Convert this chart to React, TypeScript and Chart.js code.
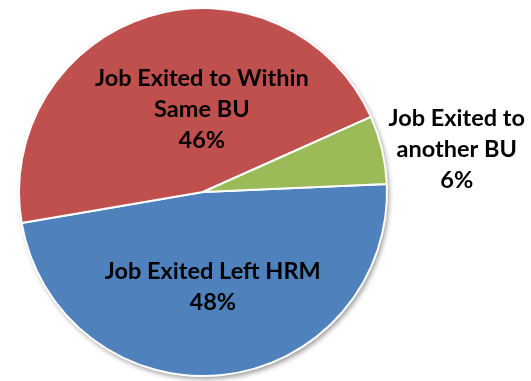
import React, { useEffect, useRef } from 'react';
import { Chart, registerables } from 'chart.js';

Chart.register(...registerables);

const categories = ['Job Exited Left HRM', 'Job Exited to Within Same BU', 'Job Exited to another BU'];
const shares = [48, 46, 6];
const labelLines = [['Job Exited Left HRM'], ['Job Exited to Within', 'Same BU'], ['Job Exited to', 'another BU']];
const sliceColors = ['#4F81BD', '#C0504D', '#9BBB59'];

// label placement: radial fraction of radius + pixel nudge
const labelPlacement = [
  { frac: 0.5, dx: 0, dy: 3 },
  { frac: 0.47, dx: 24, dy: 0 },
  { frac: 1.4, dx: 3, dy: 17 },
];

const FONT = 'bold 23.5px Lato';
const LINE_H = 31;

const shadowPlugin = {
  id: 'pieShadow',
  beforeDatasetsDraw(chart: any) {
    const meta = chart.getDatasetMeta(0);
    const arc = meta.data[0];
    if (!arc) return;
    const { x, y, outerRadius } = arc.getProps(['x', 'y', 'outerRadius'], true);
    const ctx = chart.ctx;
    ctx.save();
    ctx.shadowColor = 'rgba(0,0,0,0.4)';
    ctx.shadowBlur = 5;
    ctx.shadowOffsetX = 2;
    ctx.shadowOffsetY = 3;
    ctx.fillStyle = '#ffffff';
    ctx.beginPath();
    ctx.arc(x, y, outerRadius, 0, Math.PI * 2);
    ctx.fill();
    ctx.restore();
  },
};

const labelPlugin = {
  id: 'pieLabels',
  afterDatasetsDraw(chart: any) {
    const meta = chart.getDatasetMeta(0);
    const data = chart.data.datasets[0].data as number[];
    const total = data.reduce((a, b) => a + b, 0);
    const ctx = chart.ctx;
    ctx.save();
    ctx.font = FONT;
    ctx.fillStyle = '#000000';
    ctx.textAlign = 'center';
    ctx.textBaseline = 'middle';
    meta.data.forEach((arc: any, i: number) => {
      const { x, y, startAngle, endAngle, outerRadius } = arc.getProps(
        ['x', 'y', 'startAngle', 'endAngle', 'outerRadius'],
        true
      );
      const mid = (startAngle + endAngle) / 2;
      const p = labelPlacement[i];
      const ax = x + Math.cos(mid) * outerRadius * p.frac + p.dx;
      const ay = y + Math.sin(mid) * outerRadius * p.frac + p.dy;
      const lines = [...labelLines[i], Math.round((data[i] / total) * 100) + '%'];
      const y0 = ay - ((lines.length - 1) / 2) * LINE_H;
      lines.forEach((t, k) => ctx.fillText(t, ax, y0 + k * LINE_H));
    });
    ctx.restore();
  },
};

export default function App() {
  const ref = useRef<HTMLCanvasElement>(null);
  useEffect(() => {
    if (!ref.current) return;
    const chart = new Chart(ref.current, {
      type: 'pie',
      data: {
        labels: categories,
        datasets: [
          {
            data: shares,
            backgroundColor: sliceColors,
            borderColor: '#ffffff',
            borderWidth: 2,
          },
        ],
      },
      options: {
        responsive: false,
        animation: false,
        rotation: 87.5,
        layout: { padding: { left: 18, right: 143, top: 7, bottom: 4 } },
        plugins: {
          legend: { display: false },
          tooltip: { enabled: false },
        },
      },
      plugins: [shadowPlugin, labelPlugin],
    });
    return () => chart.destroy();
  }, []);
  return (
    <div style={{ position: 'fixed', left: 0, top: 0, width: 531, height: 381, background: '#fff' }}>
      <canvas ref={ref} width={531} height={381} style={{ display: 'block' }} />
    </div>
  );
}
